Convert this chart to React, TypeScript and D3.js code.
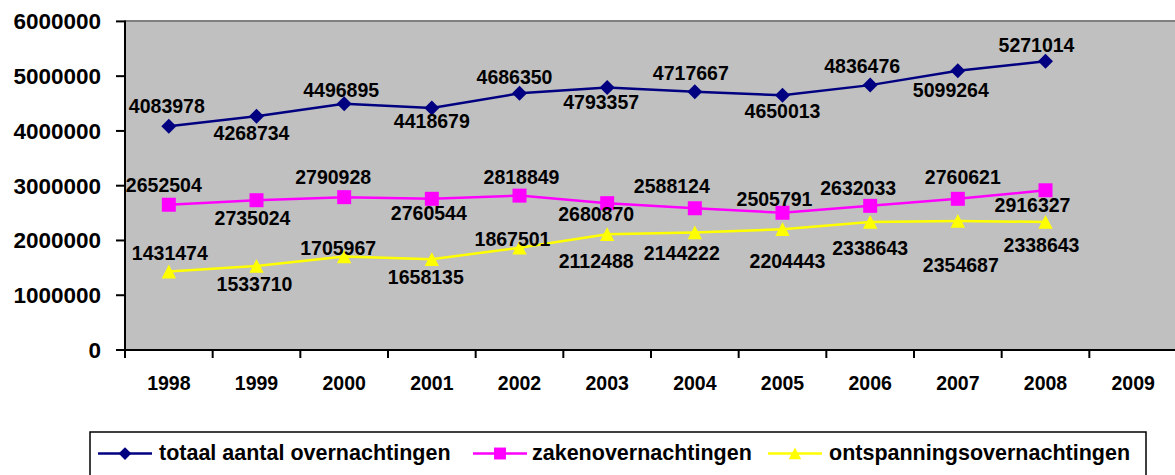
import * as d3 from 'd3';

const years = ['1998', '1999', '2000', '2001', '2002', '2003', '2004', '2005', '2006', '2007', '2008', '2009'];
const totaal = [4083978, 4268734, 4496895, 4418679, 4686350, 4793357, 4717667, 4650013, 4836476, 5099264, 5271014];
const zaken = [2652504, 2735024, 2790928, 2760544, 2818849, 2680870, 2588124, 2505791, 2632033, 2760621, 2916327];
const ontspanning = [1431474, 1533710, 1705967, 1658135, 1867501, 2112488, 2144222, 2204443, 2338643, 2354687, 2338643];
const yTicks = [0, 1000000, 2000000, 3000000, 4000000, 5000000, 6000000];

// label placement (offset of label centre from its point), as Excel put them
const totaalDx = [-2, -5, -3, 0, -5, -6, -4, 0, -8, -7, -9];
const totaalDy = [-20, 17, -14, 13, -16, 15, -19, 16, -19, 19, -16];
const zakenDx = [-5, -4, -11, -3, 2, -11, -23, -8, -12, 5, -13];
const zakenDy = [-20, 18, -20, 14, -19, 11, -22, -14, -18, -22, 15];
const ontspDx = [1, -2, -6, -6, -7, -11, -13, 5, 0, 3, -4];
const ontspDy = [-19, 18, -9, 18, -9, 27, 20, 32, 26, 44, 23];

type Shape = 'diamond' | 'square' | 'triangle';

const W = 1175, H = 475;
const PLOT = { l: 125, r: 1177, t: 21.4, b: 350 };
const FONT = '"Liberation Sans", Arial, sans-serif';

const SERIES = [
  { name: 'totaal aantal overnachtingen', values: totaal, color: '#000080', shape: 'diamond' as Shape, dx: totaalDx, dy: totaalDy },
  { name: 'zakenovernachtingen', values: zaken, color: '#FF00FF', shape: 'square' as Shape, dx: zakenDx, dy: zakenDy },
  { name: 'ontspanningsovernachtingen', values: ontspanning, color: '#FFFF00', shape: 'triangle' as Shape, dx: ontspDx, dy: ontspDy },
];

function markerPath(shape: Shape, k = 1) {
  if (shape === 'diamond') { const s = 7.5 * k; return `M0,${-s}L${s},0L0,${s}L${-s},0Z`; }
  if (shape === 'square') { const s = 7 * k; return `M${-s},${-s}H${s}V${s}H${-s}Z`; }
  const s = 7.2 * k;
  return `M0,${-7 * k}L${s},${6.8 * k}L${-s},${6.8 * k}Z`;
}

export default function App() {
  const x = d3.scaleBand<string>().domain(years).range([PLOT.l, PLOT.r]);
  const y = d3.scaleLinear().domain([0, 6000000]).range([PLOT.b, PLOT.t]);
  const cx = (i: number) => (x(years[i]) ?? 0) + x.bandwidth() / 2;

  const line = d3.line<number>().x((_, i) => cx(i)).y(d => y(d));

  const legendItems = [
    { lx: 98, tx: 159 },
    { lx: 473, tx: 532 },
    { lx: 768, tx: 829 },
  ];

  return (
    <div style={{ position: 'fixed', left: 0, top: 0, width: W, height: H, overflow: 'hidden', background: '#fff' }}>
      <svg width={W} height={H} style={{ display: 'block' }} fontFamily={FONT} fontWeight="bold">
        {/* plot area */}
        <rect x={PLOT.l} y={PLOT.t} width={PLOT.r - PLOT.l} height={PLOT.b - PLOT.t} fill="#C0C0C0" />
        <line x1={PLOT.l} x2={W} y1={PLOT.t - 0.5} y2={PLOT.t - 0.5} stroke="#808080" strokeWidth={2} />

        {/* y axis */}
        <line x1={PLOT.l} x2={PLOT.l} y1={PLOT.t - 1} y2={PLOT.b + 8} stroke="#000" strokeWidth={2} />
        {yTicks.map(t => (
          <g key={t}>
            <line x1={PLOT.l - 9} x2={PLOT.l} y1={y(t)} y2={y(t)} stroke="#000" strokeWidth={2} />
            <text x={101} y={y(t) + 8} textAnchor="end" fontSize={22.5} fill="#000">{t}</text>
          </g>
        ))}

        {/* x axis */}
        <line x1={PLOT.l - 1} x2={W} y1={PLOT.b} y2={PLOT.b} stroke="#000" strokeWidth={2} />
        {years.map((yr, i) => (
          <g key={yr}>
            <line x1={(x(yr) ?? 0) + x.bandwidth()} x2={(x(yr) ?? 0) + x.bandwidth()} y1={PLOT.b} y2={PLOT.b + 8} stroke="#000" strokeWidth={2} />
            <text x={cx(i)} y={390} textAnchor="middle" fontSize={19.5} fill="#000">{yr}</text>
          </g>
        ))}

        {/* series */}
        {SERIES.map(s => (
          <g key={s.name}>
            <path d={line(s.values) ?? ''} fill="none" stroke={s.color} strokeWidth={2.5} />
            {s.values.map((v, i) => (
              <path key={i} d={markerPath(s.shape)} transform={`translate(${cx(i)},${y(v)})`} fill={s.color} />
            ))}
          </g>
        ))}

        {/* data labels */}
        {SERIES.map(s => (
          <g key={s.name + '-lbl'}>
            {s.values.map((v, i) => (
              <text key={i} x={cx(i) + s.dx[i]} y={y(v) + s.dy[i] + 7} textAnchor="middle" fontSize={19.5} fill="#000">{v}</text>
            ))}
          </g>
        ))}

        {/* legend */}
        <rect x={90} y={432} width={1056} height={70} fill="#fff" stroke="#000" strokeWidth={1.5} />
        {SERIES.map((s, i) => {
          const it = legendItems[i];
          return (
            <g key={s.name + '-leg'}>
              <line x1={it.lx} x2={it.lx + 54} y1={453.5} y2={453.5} stroke={s.color} strokeWidth={2.5} />
              <path d={markerPath(s.shape, 0.85)} transform={`translate(${it.lx + 27},453.5)`} fill={s.color} />
              <text x={it.tx} y={459.5} fontSize={21.5} fill="#000">{s.name}</text>
            </g>
          );
        })}
      </svg>
    </div>
  );
}
